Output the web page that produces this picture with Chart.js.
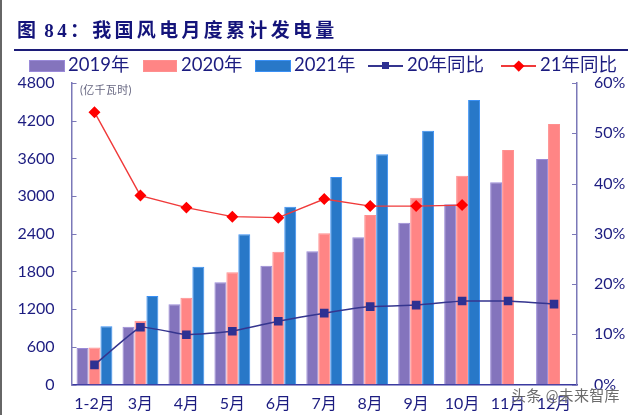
<!DOCTYPE html>
<html>
<head>
<meta charset="utf-8">
<script src="https://cdn.jsdelivr.net/npm/chart.js@4/dist/chart.umd.min.js"></script>
<style>
  html, body { margin: 0; padding: 0; background: #fff; }
  #page { position: relative; width: 640px; height: 415px; overflow: hidden; font-family: Lato, "Noto Sans CJK SC", sans-serif; }
  #edge { position: absolute; left: 0; top: 0; width: 1.5px; height: 415px; background: #666; }
  #title { position: absolute; left: 17px; top: 15px; font: 700 19px "Liberation Serif", "Noto Sans CJK SC", serif; letter-spacing: 3.3px; word-spacing: -3px; color: #14147a; white-space: pre; }
  #rule { position: absolute; left: 14px; top: 49px; width: 614px; height: 2px; background: #1c1c78; }
  canvas { position: absolute; left: 0; top: 0; }
  .lg { position: absolute; top: 52px; height: 24px; line-height: 24px; font-size: 18.5px; color: #1c1c80; white-space: nowrap; }
  .sw { position: absolute; top: 60px; height: 12px; box-sizing: border-box; border-width: 1px; border-style: solid; }
  .ln { position: absolute; top: 65px; height: 1.5px; }
  .mk { position: absolute; }
  #unit { position: absolute; left: 80px; top: 81px; font-size: 11px; letter-spacing: 0.3px; color: #666680; }
  #mark { position: absolute; left: 511px; top: 384px; font-size: 15px; letter-spacing: 0.3px; color: rgba(70,70,70,0.8); white-space: nowrap; text-shadow: 0 0 2px #fff; }
</style>
</head>
<body>
<div id="page">
  <canvas id="windChart" width="640" height="415"></canvas>
  <div id="edge"></div>
  <div id="title">图 84&#xFF1A;我国风电月度累计发电量</div>
  <div id="rule"></div>
  <div id="legend"></div>
  <div id="unit">(亿千瓦时)</div>
  <div id="mark">头条 @未来智库</div>
</div>
<script>
const months = ["1-2月", "3月", "4月", "5月", "6月", "7月", "8月", "9月", "10月", "11月", "12月"];
const gen2019 = [580, 920, 1277, 1627, 1891, 2120, 2343, 2576, 2870, 3219, 3590];
const gen2020 = [590, 1016, 1382, 1786, 2114, 2407, 2698, 2974, 3324, 3733, 4147];
const gen2021 = [926, 1409, 1876, 2391, 2830, 3303, 3665, 4040, 4528, null, null];
const yoy20 = [3.9, 11.4, 9.9, 10.6, 12.6, 14.2, 15.5, 15.8, 16.6, 16.6, 16.0];
const yoy21 = [54.2, 37.6, 35.2, 33.4, 33.2, 36.9, 35.5, 35.5, 35.7, null, null];

const textColor = "#1c1c80";
const axisColor = "#7b78b8";

// ticks point into the plot on both value axes
const innerTicks = {
  id: "innerTicks",
  afterDraw(chart) {
    const ctx = chart.ctx;
    const left = chart.scales.y;
    const right = chart.scales.y1;
    ctx.save();
    ctx.strokeStyle = axisColor;
    ctx.lineWidth = 1;
    left.ticks.forEach((t) => {
      const y = Math.round(left.getPixelForValue(t.value)) + 0.5;
      ctx.beginPath();
      ctx.moveTo(left.right, y);
      ctx.lineTo(left.right + 5, y);
      ctx.stroke();
    });
    right.ticks.forEach((t) => {
      const y = Math.round(right.getPixelForValue(t.value)) + 0.5;
      ctx.beginPath();
      ctx.moveTo(right.left, y);
      ctx.lineTo(right.left - 5, y);
      ctx.stroke();
    });
    ctx.restore();
  },
};

const barDataset = (label, data, fill, edge) => ({
  type: "bar",
  label,
  data,
  backgroundColor: fill,
  borderColor: edge,
  borderWidth: 1,
  categoryPercentage: 0.78,
  barPercentage: 1,
  yAxisID: "y",
  order: 2,
});

const lineDataset = (label, data, color, markColor, style, radius, width, tension) => ({
  type: "line",
  label,
  data,
  borderColor: color,
  borderWidth: width,
  backgroundColor: markColor,
  pointBackgroundColor: markColor,
  pointBorderColor: markColor,
  pointStyle: style,
  pointRadius: radius,
  tension,
  yAxisID: "y1",
  order: 1,
});

const chart = new Chart(document.getElementById("windChart"), {
  data: {
    labels: months,
    datasets: [
      barDataset("2019年", gen2019, "#8474bd", "#9a8ad8"),
      barDataset("2020年", gen2020, "#ff8585", "#ff8f8f"),
      barDataset("2021年", gen2021, "#2878c8", "#3a90f5"),
      lineDataset("20年同比", yoy20, "#35358f", "#2e3192", "rect", 5, 1.5, 0.1),
      lineDataset("21年同比", yoy21, "#f03a3a", "#ff0000", "rectRot", 5, 1.4, 0),
    ],
  },
  options: {
    responsive: false,
    animation: false,
    layout: { padding: { top: 83 } },
    plugins: { legend: { display: false }, tooltip: { enabled: false } },
    scales: {
      x: {
        grid: { display: false, drawTicks: false },
        border: { color: "#3a3aa0", width: 1.5 },
        ticks: { color: textColor, font: { family: "Lato, 'Noto Sans CJK SC'", size: 16 }, padding: 10, maxRotation: 0, autoSkip: false },
        afterFit(scale) { scale.height = 30.5; },
      },
      y: {
        position: "left",
        min: 0,
        max: 4800,
        grid: { display: false, drawTicks: false },
        border: { color: axisColor, width: 1.5 },
        ticks: { stepSize: 600, color: textColor, font: { family: "Lato", size: 16 }, padding: 17, callback: (v) => String(v) },
        afterFit(scale) { scale.width = 71.5; },
      },
      y1: {
        position: "right",
        min: 0,
        max: 60,
        grid: { display: false, drawTicks: false },
        border: { color: axisColor, width: 1.5 },
        ticks: { stepSize: 10, color: textColor, font: { family: "Lato", size: 16 }, padding: 17, callback: (v) => v + "%" },
        afterFit(scale) { scale.width = 63; },
      },
    },
  },
  plugins: [innerTicks],
});

// legend sits in its own row above the plot, one slot per dataset
const legendSlots = [
  { key: 29, width: 36, text: 68 },
  { key: 143, width: 34, text: 181 },
  { key: 255, width: 36, text: 294 },
  { key: 368, width: 35, text: 407 },
  { key: 501, width: 35, text: 540 },
];
const legendBox = document.getElementById("legend");
chart.data.datasets.forEach((ds, i) => {
  const slot = legendSlots[i];
  if (ds.type === "bar") {
    const sw = document.createElement("div");
    sw.className = "sw";
    sw.style.left = slot.key + "px";
    sw.style.width = slot.width + "px";
    sw.style.background = ds.backgroundColor;
    sw.style.borderColor = ds.borderColor;
    legendBox.appendChild(sw);
  } else {
    const ln = document.createElement("div");
    ln.className = "ln";
    ln.style.left = slot.key + "px";
    ln.style.width = slot.width + "px";
    ln.style.background = ds.borderColor;
    legendBox.appendChild(ln);
    const mk = document.createElement("div");
    mk.className = "mk";
    const size = ds.pointStyle === "rect" ? 7 : 7.5;
    mk.style.width = size + "px";
    mk.style.height = size + "px";
    mk.style.left = slot.key + slot.width / 2 - size / 2 + "px";
    mk.style.top = 65.75 - size / 2 + "px";
    mk.style.background = ds.backgroundColor;
    if (ds.pointStyle === "rectRot") mk.style.transform = "rotate(45deg)";
    legendBox.appendChild(mk);
  }
  const label = document.createElement("div");
  label.className = "lg";
  label.style.left = slot.text + "px";
  label.textContent = ds.label;
  legendBox.appendChild(label);
});
</script>
</body>
</html>
